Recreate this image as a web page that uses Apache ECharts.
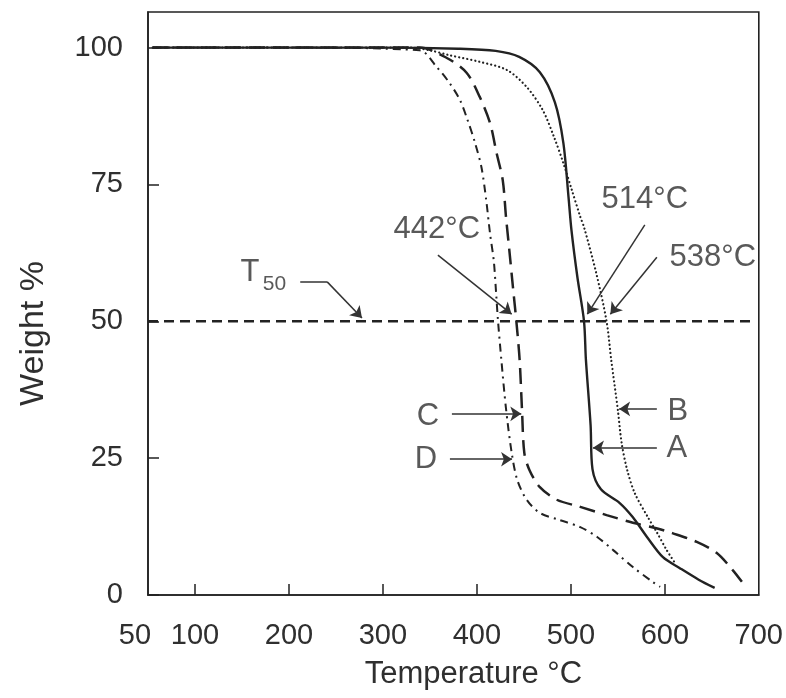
<!DOCTYPE html>
<html>
<head>
<meta charset="utf-8">
<script src="https://cdn.jsdelivr.net/npm/echarts@6/dist/echarts.min.js"></script>
<style>
  html, body { margin: 0; padding: 0; background: #ffffff; }
  #chart { width: 786px; height: 698px; }
</style>
</head>
<body>
<div id="chart"></div>
<script>
// Axis ticks
const temperatureTicks = [50, 100, 200, 300, 400, 500, 600, 700];
const temperatureMarks = [100, 200, 300, 400, 500, 600];
const weightTicks = [0, 25, 50, 75, 100];

// TGA curves: temperature (°C) and remaining weight (%)
const tempA = [55, 200, 300, 380, 420, 445, 467, 483, 492, 497.5, 500.6, 507, 514, 516, 521, 523, 532, 552, 566, 581, 598, 616, 636, 653];
const weightA = [100, 100, 100, 99.8, 99.4, 98.3, 95.5, 90, 82.6, 72.7, 66.7, 58, 50, 43, 31, 23, 19.3, 16.8, 14.2, 10.6, 6.9, 4.9, 2.8, 1.3];

const tempB = [55, 200, 330, 350, 371, 403, 432, 453, 470, 482, 492, 501, 510, 514, 527, 538, 543, 550, 554, 560, 568, 582, 592, 602, 611];
const weightB = [100, 100, 100, 99.5, 98.6, 97.4, 95.9, 92.8, 88.6, 83.7, 78.9, 74, 69.1, 67.2, 58.8, 50, 42.9, 33.8, 27.8, 22.8, 18.6, 14.2, 11.3, 8.2, 5.8];

const tempC = [55, 200, 339, 368, 389, 403, 414, 421, 427.5, 431, 434.5, 438.5, 442, 445.5, 448, 450.5, 456, 467, 485, 510, 538, 566, 591, 608, 634, 655, 672, 682];
const weightC = [100, 100, 100, 98.1, 95.4, 91, 86.2, 80.7, 75.8, 69, 63, 56, 50, 42.9, 33.8, 25.9, 22.8, 19.7, 17.4, 16.1, 14.6, 13.2, 12.2, 11.3, 9.7, 7.7, 4.6, 2.4];

const tempD = [55, 200, 339, 357, 371, 382, 390, 398, 405, 410, 414, 418, 420.5, 422.5, 426, 431, 437, 443, 453, 467, 488, 510, 528, 545, 566, 587, 595];
const weightD = [100, 100, 99.5, 96.5, 93.5, 90.4, 86.8, 82.6, 78, 72, 66, 61, 55, 50, 43, 34, 26, 21, 17.4, 15, 13.7, 12.4, 10.6, 8.2, 5.1, 2.4, 1.5];

// T50 reference level and the stated half-weight temperatures
const halfWeight = 50;
const t50A = 514, t50B = 538, t50C = 442;

const ink = '#222222';
const textInk = '#2f2f2f';
const fontFamily = '"Liberation Sans", Arial, Helvetica, sans-serif';

function pairs(ts, ws) { return ts.map((t, i) => [t, ws[i]]); }

// temperature at which a falling curve reaches weight w
function tempAt(ts, ws, w) {
  for (let i = 1; i < ts.length; i++) {
    if (ws[i - 1] >= w && ws[i] <= w) {
      const f = (ws[i - 1] - w) / (ws[i - 1] - ws[i] || 1);
      return ts[i - 1] + f * (ts[i] - ts[i - 1]);
    }
  }
  return ts[ts.length - 1];
}

function arrow(from, to) {
  return [{ coord: from }, { coord: to }];
}

const arrows = [
  [{ coord: [212, 57.2], symbol: 'none' }, { coord: [240.7, 57.2], symbol: 'none' }],
  arrow([240.7, 57.2], [277.7, 50.6]),
  arrow([358.5, 62.1], [t50C - 5, 51.3]),
  arrow([578.7, 67.6], [t50A + 3.5, 51.3]),
  arrow([591.5, 61.7], [t50B + 4, 51.3]),
  arrow([373.4, 33.1], [tempAt(tempC, weightC, 33.1) - 1, 33.1]),
  arrow([371.3, 24.8], [tempAt(tempD, weightD, 24.8) - 1, 24.8]),
  arrow([591.5, 34], [tempAt(tempB, weightB, 34) + 1.5, 34]),
  arrow([591.5, 26.9], [tempAt(tempA, weightA, 26.9) + 1.5, 26.9])
];

const notes = [
  { name: t50A + '°C', value: [578.7, 72.3] },
  { name: t50B + '°C', value: [651, 61.6] },
  { name: t50C + '°C', value: [357.4, 66.7] },
  { name: 'T', value: [158.5, 59.0] },
  { name: '50', value: [184.6, 56.7], label: { fontSize: 21 } },
  { name: 'A', value: [612.8, 26.7] },
  { name: 'B', value: [613.8, 33.6] },
  { name: 'C', value: [347.9, 32.7] },
  { name: 'D', value: [345.7, 24.7] }
];

function curve(name, ts, ws, lineType, width, cap) {
  return {
    name: name,
    type: 'line',
    data: pairs(ts, ws),
    showSymbol: false,
    smooth: 0.3,
    silent: true,
    lineStyle: { color: ink, width: width, type: lineType, cap: cap || 'butt' },
    z: 3
  };
}

const chart = echarts.init(document.getElementById('chart'), null, { renderer: 'canvas' });

chart.setOption({
  backgroundColor: '#ffffff',
  animation: false,
  grid: {
    left: 148, right: 27, top: 12, bottom: 103,
    show: true, borderColor: ink, borderWidth: 1.6, backgroundColor: 'transparent'
  },
  xAxis: {
    type: 'value',
    min: 50, max: 700,
    name: 'Temperature °C',
    nameLocation: 'middle',
    nameGap: 64,
    nameTextStyle: { fontFamily: fontFamily, fontSize: 31, color: textInk, padding: [0, 0, 0, 40] },
    axisLine: { lineStyle: { color: ink, width: 1.6 } },
    axisTick: { show: true, inside: true, length: 11, customValues: temperatureMarks, lineStyle: { color: ink, width: 1.5 } },
    axisLabel: {
      customValues: temperatureTicks,
      margin: 26,
      fontFamily: fontFamily,
      fontSize: 29,
      color: textInk,
      formatter: v => (v === 50 ? '{first|50}' : String(v)),
      rich: { first: { fontFamily: fontFamily, fontSize: 29, color: textInk, padding: [0, 26, 0, 0] } }
    },
    splitLine: { show: false }
  },
  yAxis: {
    type: 'value',
    min: 0, max: 106.5,
    name: 'Weight %',
    nameLocation: 'middle',
    nameRotate: 90,
    nameGap: 97,
    nameTextStyle: { fontFamily: fontFamily, fontSize: 34, color: textInk, padding: [0, 60, 0, 0] },
    axisLine: { lineStyle: { color: ink, width: 1.6 } },
    axisTick: { show: true, inside: true, length: 11, customValues: weightTicks, lineStyle: { color: ink, width: 1.5 } },
    axisLabel: { customValues: weightTicks, margin: 25, fontFamily: fontFamily, fontSize: 29, color: textInk },
    splitLine: { show: false }
  },
  series: [
    curve('D', tempD, weightD, [8, 5, 2, 5], 2),
    curve('C', tempC, weightC, [16, 8], 2.5),
    curve('B', tempB, weightB, [0.1, 4], 2.2, 'round'),
    curve('A', tempA, weightA, 'solid', 2.4),
    {
      name: 'T50',
      type: 'line',
      data: [[50, halfWeight], [693, halfWeight]],
      showSymbol: false,
      silent: true,
      lineStyle: { color: ink, width: 2.5, type: [10, 6] },
      z: 2,
      markLine: {
        silent: true,
        symbol: ['none', 'arrow'],
        symbolSize: 11,
        label: { show: false },
        lineStyle: { color: '#333333', width: 1.5, type: 'solid' },
        emphasis: { disabled: true },
        data: arrows
      }
    },
    {
      name: 'notes',
      type: 'scatter',
      data: notes,
      symbolSize: 0,
      silent: true,
      label: {
        show: true,
        position: 'inside',
        formatter: '{b}',
        fontFamily: fontFamily,
        fontSize: 31,
        color: textInk
      },
      z: 5
    }
  ]
});
</script>
</body>
</html>
